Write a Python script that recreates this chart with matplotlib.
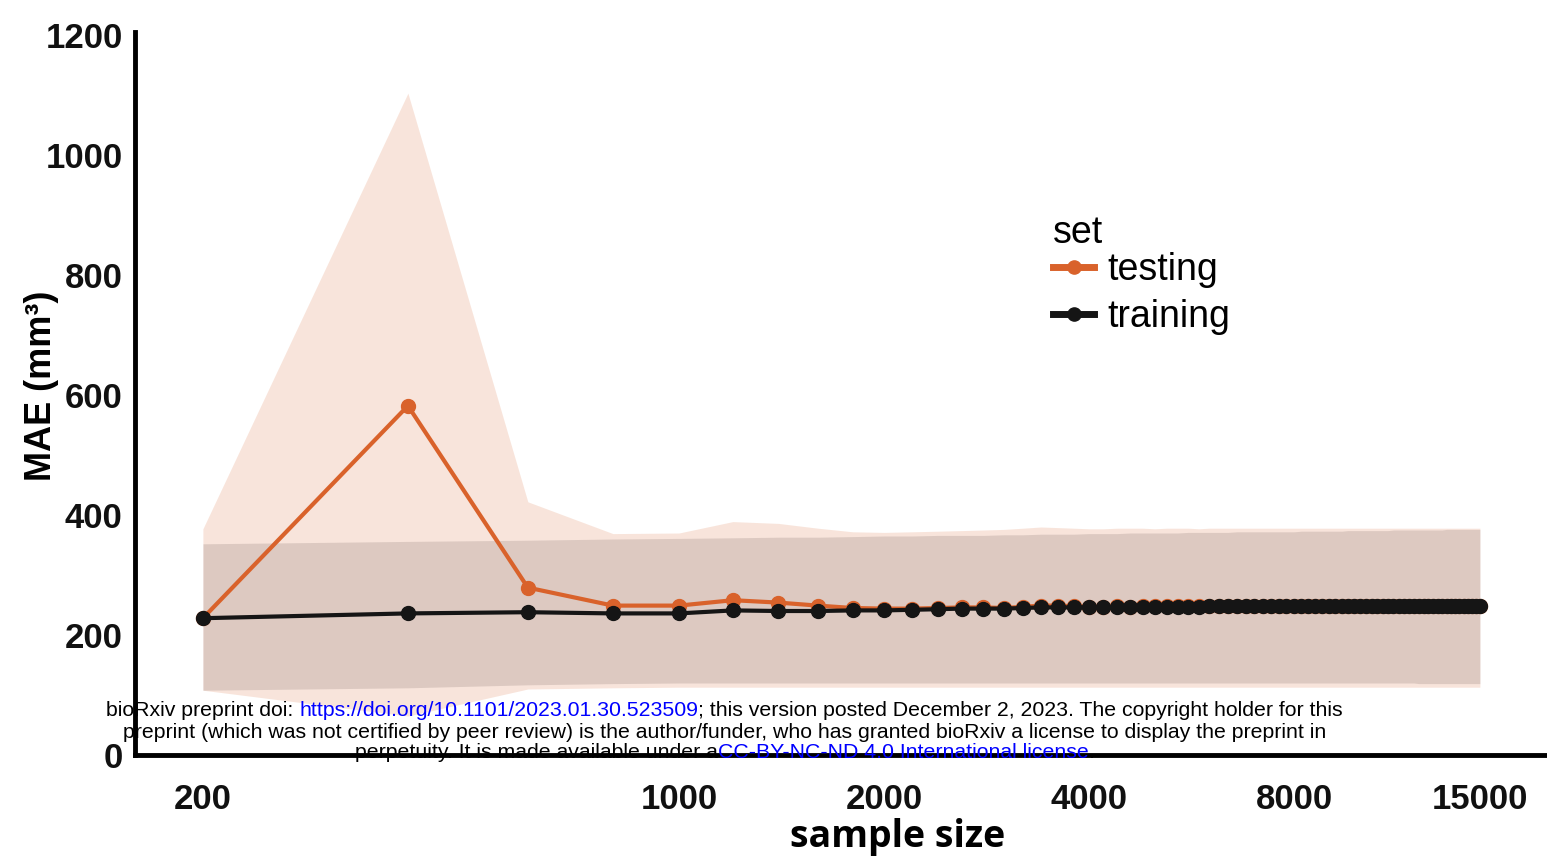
import matplotlib
matplotlib.use("Agg")
import matplotlib.pyplot as plt

# sample sizes used in the learning curve (step 200)
sample_size = list(range(200, 15001, 200))

# mean absolute error per sample size
mae_testing = [228, 582, 279, 249, 249, 258, 254, 249, 245, 244,
               244, 245, 246, 246, 245, 247, 249, 249, 248, 247,
               247, 248, 247, 248, 248, 249, 248, 248, 249, 248,
               248, 249, 248, 248, 249, 249, 248, 248, 249, 248,
               248, 249, 248, 248, 248, 249, 248, 248, 249, 248,
               248, 248, 249, 248, 248, 248, 248, 249, 248, 248,
               248, 248, 248, 248, 249, 248, 248, 248, 248, 248,
               248, 248, 248, 248, 248]
mae_training = [228, 236, 238, 236, 236, 241, 240, 240, 241, 241,
                242, 243, 244, 244, 244, 245, 246, 246, 246, 246,
                246, 246, 247, 247, 247, 247, 247, 247, 247, 248,
                248, 248, 248, 248, 248, 248, 248, 248, 248, 248,
                248, 248, 249, 248, 249, 249, 249, 249, 249, 249,
                249, 249, 249, 249, 249, 249, 249, 249, 249, 249,
                249, 249, 249, 249, 249, 249, 249, 249, 249, 249,
                249, 249, 249, 249, 249]

# spread (sd band) around each curve
testing_hi = [377, 1103, 422, 369, 370, 389, 386, 378, 372, 371,
              372, 373, 374, 375, 376, 378, 380, 379, 378, 377,
              377, 378, 378, 378, 377, 378, 378, 378, 377, 378,
              378, 378, 378, 378, 378, 378, 378, 378, 378, 378,
              378, 378, 378, 378, 378, 378, 378, 378, 378, 378,
              378, 378, 378, 378, 378, 378, 378, 378, 378, 378,
              378, 378, 378, 378, 378, 378, 378, 378, 378, 378,
              378, 378, 378, 378, 378]
testing_lo = [108, 65, 110, 112, 113, 113, 113, 113, 113, 113,
              113, 113, 113, 113, 113, 113, 113, 113, 113, 113,
              113, 113, 113, 113, 113, 113, 113, 113, 113, 113,
              113, 113, 113, 113, 113, 113, 113, 113, 113, 113,
              113, 113, 113, 113, 113, 113, 113, 113, 113, 113,
              113, 113, 113, 113, 113, 113, 113, 113, 113, 113,
              113, 113, 113, 113, 113, 113, 113, 113, 113, 113,
              113, 113, 113, 113, 113]
training_hi = [352, 356, 358, 360, 361, 362, 363, 363, 364, 365,
               365, 366, 366, 366, 367, 367, 368, 368, 368, 369,
               369, 369, 370, 370, 370, 370, 370, 371, 371, 371,
               371, 371, 372, 372, 372, 372, 372, 372, 372, 372,
               373, 373, 373, 373, 373, 373, 373, 374, 374, 374,
               374, 374, 374, 374, 374, 375, 375, 375, 375, 375,
               375, 375, 375, 375, 375, 375, 376, 376, 376, 376,
               376, 376, 376, 376, 376]
training_lo = [108, 112, 117, 119, 120, 120, 120, 120, 120, 120,
               120, 120, 120, 120, 120, 120, 120, 120, 120, 120,
               120, 120, 120, 120, 120, 120, 120, 120, 120, 120,
               120, 120, 120, 120, 120, 120, 120, 120, 120, 120,
               120, 120, 120, 120, 120, 120, 120, 120, 120, 120,
               120, 120, 120, 120, 120, 120, 120, 120, 120, 120,
               119, 119, 119, 119, 119, 119, 119, 119, 119, 119,
               119, 119, 119, 119, 119]

xticks = [200, 1000, 2000, 4000, 8000, 15000]
yticks = [0, 200, 400, 600, 800, 1000, 1200]

ORANGE = "#d9622b"
BLACK = "#151515"

fig = plt.figure(figsize=(15.47, 8.57), dpi=100)
ax = fig.add_axes([0.0873, 0.119, 0.9127, 0.8437])

ax.fill_between(sample_size, testing_lo, testing_hi, color=ORANGE,
                alpha=0.17, linewidth=0)
ax.fill_between(sample_size, training_lo, training_hi, color="#3a2a28",
                alpha=0.14, linewidth=0)

ax.plot(sample_size, mae_testing, color=ORANGE, lw=3, marker="o",
        ms=10, label="testing")
ax.plot(sample_size, mae_training, color=BLACK, lw=3, marker="o",
        ms=10, label="training")

ax.set_xscale("log")
ax.set_xlim(159, 18820)
ax.set_ylim(0, 1205)
ax.set_xticks(xticks)
ax.set_xticklabels([str(t) for t in xticks])
ax.minorticks_off()
ax.set_yticks(yticks)

for side in ("top", "right"):
    ax.spines[side].set_visible(False)
for side in ("left", "bottom"):
    ax.spines[side].set_linewidth(3.5)
    ax.spines[side].set_color("black")

ax.tick_params(axis="both", length=0)
ax.tick_params(axis="x", pad=20)
ax.tick_params(axis="y", pad=9)
for lab in ax.get_xticklabels() + ax.get_yticklabels():
    lab.set_fontfamily("Liberation Sans")
    lab.set_fontweight("bold")
    lab.set_fontsize(25)
    lab.set_color("#111111")

fig.text(0.58, 0.023, "sample size", ha="center", va="center",
         fontsize=27, fontweight="bold", family="Open Sans")
fig.text(0.027, 0.55, "MAE (mm³)", ha="center", va="center", rotation=90,
         fontsize=26, fontweight="bold", family="Liberation Sans")

# legend title drawn on its own so the gap to the entries stays tight
fig.text(1053 / 1547, 1 - 233 / 857, "set", ha="left", va="center",
         fontsize=27, family="Liberation Sans")
leg = ax.legend(loc="upper left", frameon=False,
                bbox_to_anchor=(1053 / 1547, 1 - 252 / 857),
                bbox_transform=fig.transFigure,
                prop={"family": "Liberation Sans", "size": 27},
                handlelength=1.1, handletextpad=0.35, labelspacing=0.3,
                borderaxespad=0, borderpad=0, markerscale=0.95)
for h in leg.get_lines():
    h.set_linewidth(5)

# preprint notice stamped over the lower part of the chart
note_lines = [
    (106, 711, [("bioRxiv preprint doi: ", "black"),
                ("https://doi.org/10.1101/2023.01.30.523509", "blue"),
                ("; this version posted December 2, 2023. The copyright holder for this", "black")]),
    (123, 732, [("preprint (which was not certified by peer review) is the author/funder, who has granted bioRxiv a license to display the preprint in", "black")]),
    (355, 753, [("perpetuity. It is made available under a", "black"),
                ("CC-BY-NC-ND 4.0 International license", "blue"),
                (".", "black")]),
]
W, H = 1547, 857
for x0, y0, parts in note_lines:
    prev = None
    for txt, col in parts:
        if prev is None:
            prev = fig.text(x0 / W, 1 - y0 / H, txt, color=col, ha="left",
                            va="center", fontsize=15.3, family="Liberation Sans")
        else:
            prev = ax.annotate(txt, xy=(1, 0.5), xycoords=prev, ha="left",
                               va="center", color=col, fontsize=15.3,
                               family="Liberation Sans", annotation_clip=False)

fig.savefig("out.png", dpi=100)
